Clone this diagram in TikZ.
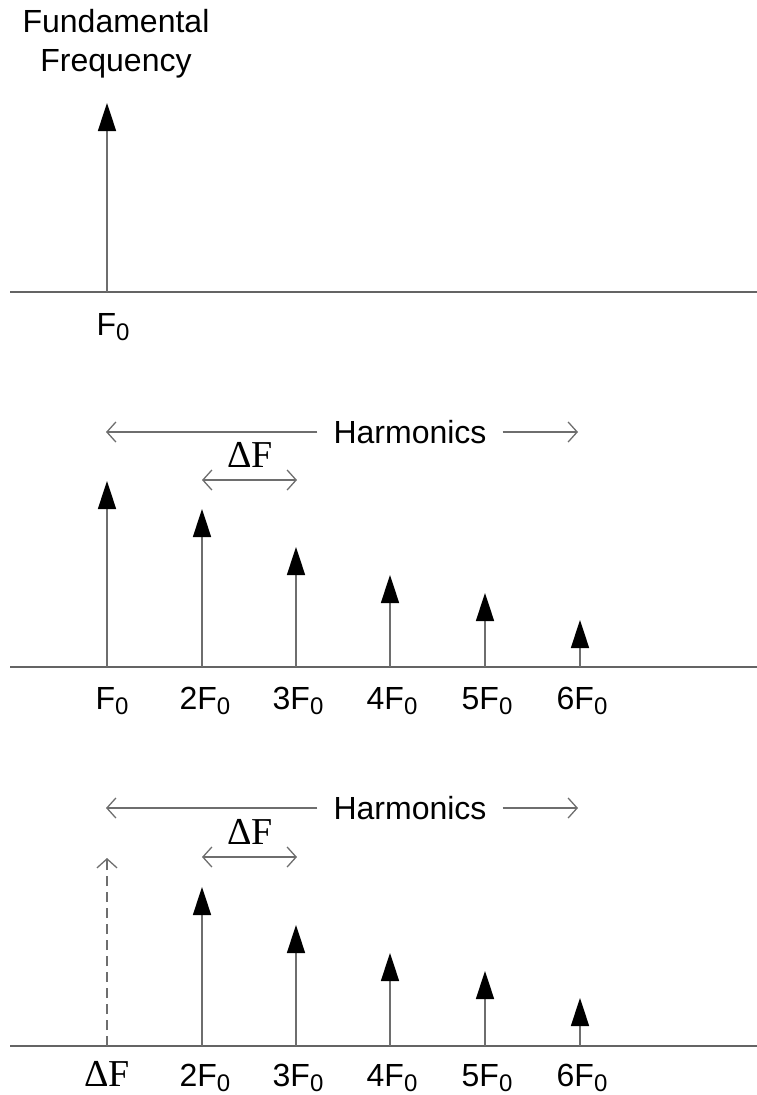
\documentclass[tikz,border=0pt]{standalone}
\usepackage{fontspec}
\setmainfont{Liberation Sans}
\newfontfamily\specserif{Liberation Serif}
\usetikzlibrary{arrows.meta}
\definecolor{SpecLine}{RGB}{110,110,110}
\definecolor{SpecAxis}{RGB}{100,100,100}
\newcommand{\fzero}[1]{#1F\raisebox{-5pt}{\fontsize{24}{24}\selectfont 0}}
\newcommand{\deltaf}{{\specserif\fontsize{38}{42}\selectfont ΔF}}

\begin{document}
\begin{tikzpicture}[x=1pt,y=-1pt,
    axisline/.style={draw=SpecAxis,line width=1.7pt},
    spike/.style={draw=SpecLine,line width=1.6pt,-{Triangle[length=28pt,width=18pt,color=black]}},
    ghost/.style={draw=SpecLine,line width=1.3pt,dash pattern=on 10pt off 6pt,-{Straight Barb[length=9pt,width=20pt]}},
    span/.style={draw=SpecLine,line width=1.3pt,-{Straight Barb[length=9pt,width=20pt]}},
    gap/.style={draw=SpecLine,line width=1.3pt,{Straight Barb[length=9pt,width=20pt]}-{Straight Barb[length=9pt,width=20pt]}},
    lbl/.style={anchor=base,inner sep=0pt,font=\fontsize{32}{38}\selectfont},
    harm/.style={inner ysep=0pt,inner xsep=16pt,font=\fontsize{32}{38}\selectfont},
    dlbl/.style={anchor=base,inner sep=0pt}
  ]
    \useasboundingbox (0,0) rectangle (757,1095);

    % fundamental only
    \node[anchor=north,align=center,inner sep=0pt,font=\fontsize{32}{39}\selectfont] (title) at (116,9) {Fundamental\\Frequency};
    \coordinate (axAl) at (10,292);
    \coordinate (axAr) at (757,292);
    \draw[axisline] (axAl) -- (axAr);
    \coordinate (bA1) at (107,292);
    \coordinate (tA1) at (107,103);
    \draw[spike] (bA1) -- (tA1);
    \node[lbl] (lA1) at (113,335) {\fzero{}};

    % fundamental plus harmonics
    \node[harm] (harmB) at (410,432) {Harmonics};
    \coordinate (harmBl) at (106,432);
    \coordinate (harmBr) at (578,432);
    \draw[span] (harmB.west) -- (harmBl);
    \draw[span] (harmB.east) -- (harmBr);
    \node[dlbl] (dfB) at (250,467) {\deltaf};
    \coordinate (dfBl) at (202,480);
    \coordinate (dfBr) at (297,480);
    \draw[gap] (dfBl) -- (dfBr);

    \coordinate (axBl) at (10,667);
    \coordinate (axBr) at (757,667);
    \draw[axisline] (axBl) -- (axBr);
    \coordinate (bB1) at (107,667); \coordinate (tB1) at (107,481);
    \coordinate (bB2) at (202,667); \coordinate (tB2) at (202,509);
    \coordinate (bB3) at (296,667); \coordinate (tB3) at (296,547);
    \coordinate (bB4) at (390,667); \coordinate (tB4) at (390,575);
    \coordinate (bB5) at (485,667); \coordinate (tB5) at (485,593);
    \coordinate (bB6) at (580,667); \coordinate (tB6) at (580,620);
    \draw[spike] (bB1) -- (tB1);
    \draw[spike] (bB2) -- (tB2);
    \draw[spike] (bB3) -- (tB3);
    \draw[spike] (bB4) -- (tB4);
    \draw[spike] (bB5) -- (tB5);
    \draw[spike] (bB6) -- (tB6);
    \node[lbl] (lB1) at (112,709) {\fzero{}};
    \node[lbl] (lB2) at (205,709) {\fzero{2}};
    \node[lbl] (lB3) at (298,709) {\fzero{3}};
    \node[lbl] (lB4) at (392,709) {\fzero{4}};
    \node[lbl] (lB5) at (487,709) {\fzero{5}};
    \node[lbl] (lB6) at (582,709) {\fzero{6}};

    % harmonics with missing fundamental
    \node[harm] (harmC) at (410,808) {Harmonics};
    \coordinate (harmCl) at (106,808);
    \coordinate (harmCr) at (578,808);
    \draw[span] (harmC.west) -- (harmCl);
    \draw[span] (harmC.east) -- (harmCr);
    \node[dlbl] (dfC) at (250,844) {\deltaf};
    \coordinate (dfCl) at (202,857);
    \coordinate (dfCr) at (297,857);
    \draw[gap] (dfCl) -- (dfCr);

    \coordinate (axCl) at (10,1046);
    \coordinate (axCr) at (757,1046);
    \draw[axisline] (axCl) -- (axCr);
    \coordinate (bC1) at (107,1046); \coordinate (tC1) at (107,858);
    \coordinate (bC2) at (202,1046); \coordinate (tC2) at (202,887);
    \coordinate (bC3) at (296,1046); \coordinate (tC3) at (296,925);
    \coordinate (bC4) at (390,1046); \coordinate (tC4) at (390,953);
    \coordinate (bC5) at (485,1046); \coordinate (tC5) at (485,971);
    \coordinate (bC6) at (580,1046); \coordinate (tC6) at (580,998);
    \draw[ghost] (bC1) -- (tC1);
    \draw[spike] (bC2) -- (tC2);
    \draw[spike] (bC3) -- (tC3);
    \draw[spike] (bC4) -- (tC4);
    \draw[spike] (bC5) -- (tC5);
    \draw[spike] (bC6) -- (tC6);
    \node[dlbl] (lC1) at (107,1086) {\deltaf};
    \node[lbl] (lC2) at (205,1086) {\fzero{2}};
    \node[lbl] (lC3) at (298,1086) {\fzero{3}};
    \node[lbl] (lC4) at (392,1086) {\fzero{4}};
    \node[lbl] (lC5) at (487,1086) {\fzero{5}};
    \node[lbl] (lC6) at (582,1086) {\fzero{6}};
  \end{tikzpicture}
\end{document}
